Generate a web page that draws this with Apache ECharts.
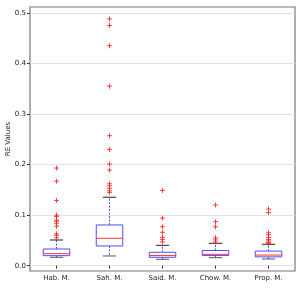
<!DOCTYPE html>
<html>
<head>
<meta charset="utf-8">
<script src="https://cdn.jsdelivr.net/npm/echarts@6/dist/echarts.min.js"></script>
<style>
html,body{margin:0;padding:0;background:#fff;}
#chart{width:303px;height:288px;}
</style>
</head>
<body>
<div id="chart"></div>
<script>
const categories = ['Hab. M.', 'Sah. M.', 'Said. M.', 'Chow. M.', 'Prop. M.'];
const whiskerLow  = [0.0166, 0.0192, 0.0127, 0.0158, 0.0133];
const q1          = [0.0198, 0.0390, 0.0166, 0.0200, 0.0175];
const median      = [0.0237, 0.0542, 0.0200, 0.0225, 0.0210];
const q3          = [0.0330, 0.0805, 0.0265, 0.0300, 0.0288];
const whiskerHigh = [0.0508, 0.1353, 0.0403, 0.0443, 0.0423];
const outliersHab  = [0.193, 0.167, 0.129, 0.100, 0.097, 0.090, 0.087, 0.083, 0.078, 0.063, 0.060, 0.055];
const outliersSah  = [0.488, 0.475, 0.435, 0.355, 0.257, 0.230, 0.201, 0.189, 0.162, 0.158, 0.153, 0.148, 0.145];
const outliersSaid = [0.149, 0.094, 0.077, 0.066, 0.056, 0.052, 0.047];
const outliersChow = [0.120, 0.087, 0.077, 0.055, 0.051, 0.047];
const outliersProp = [0.112, 0.105, 0.065, 0.061, 0.056, 0.052, 0.049, 0.046, 0.044];
const yTicks = [0.0, 0.1, 0.2, 0.3, 0.4, 0.5];

const outlierLists = [outliersHab, outliersSah, outliersSaid, outliersChow, outliersProp];
const boxData = categories.map((c, i) => [i, whiskerLow[i], q1[i], median[i], q3[i], whiskerHigh[i]]);
const outlierData = [];
outlierLists.forEach((arr, i) => arr.forEach(v => outlierData.push([i, v])));

const FONT = 'DejaVu Sans';
const chart = echarts.init(document.getElementById('chart'), null, {renderer: 'canvas'});

function renderBox(params, api) {
  const idx = api.value(0);
  const band = api.size([1, 0])[0];
  const bw = band * 0.5;
  const cw = band * 0.25;
  const pLow = api.coord([idx, api.value(1)]);
  const pQ1 = api.coord([idx, api.value(2)]);
  const pMed = api.coord([idx, api.value(3)]);
  const pQ3 = api.coord([idx, api.value(4)]);
  const pHigh = api.coord([idx, api.value(5)]);
  const x = pQ1[0];
  const blue = '#4d4dff';
  return {
    type: 'group',
    children: [
      {type: 'line', shape: {x1: x, y1: pQ1[1], x2: x, y2: pLow[1]}, style: {stroke: blue, lineWidth: 1, lineDash: [2, 1.5]}},
      {type: 'line', shape: {x1: x, y1: pQ3[1], x2: x, y2: pHigh[1]}, style: {stroke: blue, lineWidth: 1, lineDash: [2, 1.5]}},
      {type: 'line', shape: {x1: x - cw / 2, y1: pLow[1], x2: x + cw / 2, y2: pLow[1]}, style: {stroke: '#555', lineWidth: 1}},
      {type: 'line', shape: {x1: x - cw / 2, y1: pHigh[1], x2: x + cw / 2, y2: pHigh[1]}, style: {stroke: '#222', lineWidth: 1}},
      {type: 'rect', shape: {x: x - bw / 2, y: pQ3[1], width: bw, height: pQ1[1] - pQ3[1]}, style: {fill: '#fff', stroke: blue, lineWidth: 1}},
      {type: 'line', shape: {x1: x - bw / 2, y1: pMed[1], x2: x + bw / 2, y2: pMed[1]}, style: {stroke: '#ff3030', lineWidth: 1}}
    ]
  };
}

function renderPlus(params, api) {
  const p = api.coord([api.value(0), api.value(1)]);
  const s = 2.5;
  return {
    type: 'group',
    children: [
      {type: 'line', shape: {x1: p[0] - s, y1: p[1], x2: p[0] + s, y2: p[1]}, style: {stroke: '#ff2020', lineWidth: 1, opacity: 0.85}},
      {type: 'line', shape: {x1: p[0], y1: p[1] - s, x2: p[0], y2: p[1] + s}, style: {stroke: '#ff2020', lineWidth: 1, opacity: 0.85}}
    ]
  };
}

chart.setOption({
  animation: false,
  backgroundColor: '#fff',
  grid: {left: 30, right: 8, top: 7, bottom: 17, show: true, borderColor: '#777', borderWidth: 1.2, backgroundColor: 'transparent', containLabel: false, outerBoundsMode: 'none'},
  xAxis: {
    type: 'category',
    data: categories,
    boundaryGap: true,
    axisLine: {show: false},
    axisTick: {show: true, alignWithLabel: true, length: 3, lineStyle: {color: '#333'}},
    axisLabel: {fontFamily: FONT, fontSize: 7, color: '#222', margin: 4},
    splitLine: {show: false}
  },
  yAxis: {
    type: 'value',
    min: -0.0105,
    max: 0.5115,
    name: 'RE Values',
    nameLocation: 'middle',
    nameGap: 18,
    nameMoveOverlap: false,
    nameTextStyle: {fontFamily: FONT, fontSize: 7, color: '#222'},
    axisLine: {show: false},
    axisTick: {show: true, length: 3, customValues: yTicks, lineStyle: {color: '#333'}},
    axisLabel: {fontFamily: FONT, fontSize: 7, color: '#222', margin: 4, customValues: yTicks, formatter: v => v.toFixed(1)},
    splitLine: {show: true, lineStyle: {color: '#e2e2e2', width: 1}}
  },
  series: [
    {type: 'custom', renderItem: renderBox, data: boxData, encode: {x: 0, y: [1, 2, 3, 4, 5]}, z: 2},
    {type: 'custom', renderItem: renderPlus, data: outlierData, encode: {x: 0, y: 1}, z: 3}
  ]
});
</script>
</body>
</html>
